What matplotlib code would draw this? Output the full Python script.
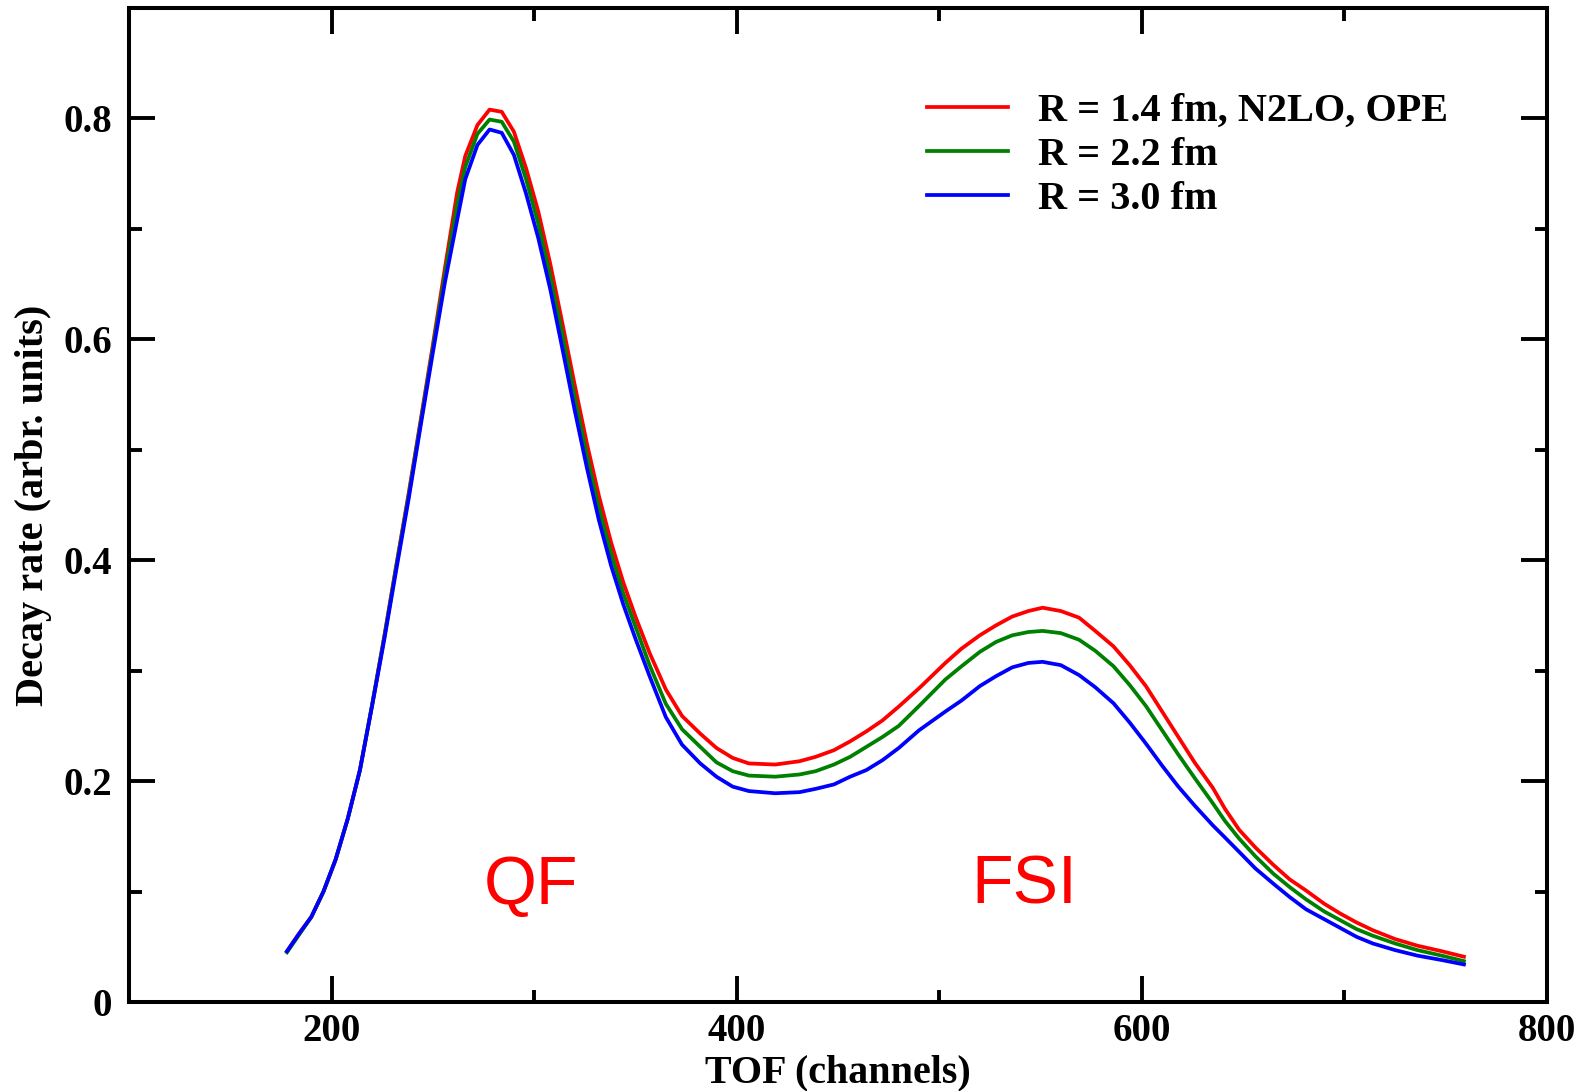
import matplotlib
matplotlib.use('Agg')
import matplotlib.pyplot as plt
from matplotlib.ticker import FixedLocator

# Canali TOF (lettura dal grafico)
tof = [178, 184, 190, 196, 202, 208, 214, 220, 226, 232, 238, 244, 250, 256, 262, 266,
       272, 278, 284, 290, 296,
       302, 308, 314, 320, 326, 332, 338, 344, 350,
       357, 365, 373, 382, 390, 398, 406,
       419, 431, 439, 448, 456, 464, 472, 480,
       490, 503, 511, 520, 528, 536, 544, 551,
       560, 569, 577, 586, 594, 602, 610, 618,
       626, 635, 641, 648, 656, 665, 673, 681,
       690, 698, 706, 714, 725, 736, 748, 759]

rate_r14 = [0.046, 0.062, 0.077, 0.100, 0.129, 0.166, 0.210, 0.269, 0.331, 0.396, 0.460, 0.527, 0.595, 0.665, 0.733, 0.766,
            0.794, 0.808, 0.806, 0.788, 0.755,
            0.716, 0.668, 0.614, 0.559, 0.506, 0.458, 0.416, 0.380, 0.349,
            0.316, 0.283, 0.259, 0.243, 0.230, 0.221, 0.216,
            0.215, 0.218, 0.222, 0.228, 0.236, 0.245, 0.255, 0.2675,
            0.284, 0.307, 0.320, 0.332, 0.341, 0.349, 0.354, 0.357,
            0.354, 0.348, 0.336, 0.322, 0.305, 0.286, 0.263, 0.240,
            0.217, 0.194, 0.175, 0.156, 0.140, 0.124, 0.111, 0.101,
            0.089, 0.080, 0.072, 0.065, 0.057, 0.051, 0.046, 0.041]

rate_r22 = [0.045, 0.061, 0.077, 0.100, 0.129, 0.166, 0.210, 0.269, 0.330, 0.395, 0.458, 0.525, 0.592, 0.659, 0.722, 0.756,
            0.786, 0.799, 0.797, 0.779, 0.745,
            0.705, 0.657, 0.604, 0.548, 0.495, 0.447, 0.406, 0.370, 0.340,
            0.305, 0.270, 0.247, 0.231, 0.217, 0.209, 0.205,
            0.204, 0.206, 0.209, 0.215, 0.222, 0.231, 0.240, 0.250,
            0.268, 0.292, 0.304, 0.317, 0.326, 0.332, 0.335, 0.336,
            0.334, 0.328, 0.318, 0.304, 0.287, 0.268, 0.246, 0.224,
            0.203, 0.180, 0.164, 0.148, 0.132, 0.116, 0.104, 0.093,
            0.082, 0.074, 0.066, 0.060, 0.053, 0.047, 0.042, 0.037]

rate_r30 = [0.046, 0.062, 0.077, 0.100, 0.129, 0.166, 0.210, 0.268, 0.328, 0.392, 0.455, 0.522, 0.588, 0.652, 0.708, 0.745,
            0.776, 0.790, 0.787, 0.767, 0.732,
            0.692, 0.645, 0.591, 0.536, 0.484, 0.436, 0.395, 0.360, 0.329,
            0.295, 0.258, 0.233, 0.216, 0.204, 0.195, 0.191,
            0.189, 0.190, 0.193, 0.197, 0.204, 0.210, 0.219, 0.230,
            0.246, 0.263, 0.273, 0.286, 0.295, 0.303, 0.307, 0.308,
            0.305, 0.296, 0.285, 0.2705, 0.253, 0.234, 0.214, 0.195,
            0.178, 0.160, 0.149, 0.136, 0.121, 0.107, 0.095, 0.084,
            0.075, 0.067, 0.059, 0.053, 0.047, 0.042, 0.038, 0.034]

etichette = ['R = 1.4 fm, N2LO, OPE', 'R = 2.2 fm', 'R = 3.0 fm']
colori = ['#ff0000', '#008000', '#0000ff']

plt.rcParams['font.family'] = ['Liberation Serif', 'DejaVu Serif']
plt.rcParams['font.weight'] = 'bold'

fig = plt.figure(figsize=(15.81, 10.91), dpi=100)
ax = fig.add_axes([129 / 1581, 1 - 1002 / 1091, (1547 - 129) / 1581, (1002 - 8) / 1091])

for serie, lab, col in zip([rate_r14, rate_r22, rate_r30], etichette, colori):
    ax.plot(tof, serie, color=col, lw=2.7, label=lab)

ax.set_xlim(100, 800)
ax.set_ylim(0, 0.9)
ax.xaxis.set_major_locator(FixedLocator([200, 400, 600, 800]))
ax.xaxis.set_minor_locator(FixedLocator([300, 500, 700]))
ax.yaxis.set_major_locator(FixedLocator([0, 0.2, 0.4, 0.6, 0.8]))
ax.yaxis.set_minor_locator(FixedLocator([0.1, 0.3, 0.5, 0.7]))
ax.set_yticklabels(['0', '0.2', '0.4', '0.6', '0.8'])

ax.tick_params(which='both', direction='in', top=True, right=True, width=2.8)
ax.tick_params(which='major', length=19, labelsize=28)
ax.tick_params(which='minor', length=9)
ax.tick_params(axis='y', which='major', pad=12)
ax.tick_params(axis='x', which='major', pad=8)
for s in ax.spines.values():
    s.set_linewidth(2.9)

ax.set_xlabel('TOF (channels)', fontsize=28.8, fontweight='bold', labelpad=3)
ax.set_ylabel('Decay rate (arbr. units)', fontsize=29, fontweight='bold', labelpad=8)

# etichette dei due picchi
ax.text(275, 0.089, 'QF', color='#ff0000', fontsize=49, family='Liberation Sans',
        fontweight='normal')
ax.text(516, 0.089, 'FSI', color='#ff0000', fontsize=49, family='Liberation Sans',
        fontweight='normal')

leg = ax.legend(loc='upper left', bbox_to_anchor=(927 / 1581, 1 - 93 / 1091),
                bbox_transform=fig.transFigure, frameon=False, fontsize=29,
                handlelength=2.0, handletextpad=0.75, labelspacing=0.17,
                borderpad=0, borderaxespad=0)
for h in leg.get_lines():
    h.set_linewidth(2.7)

fig.savefig('out.png', dpi=100)
plt.close(fig)
